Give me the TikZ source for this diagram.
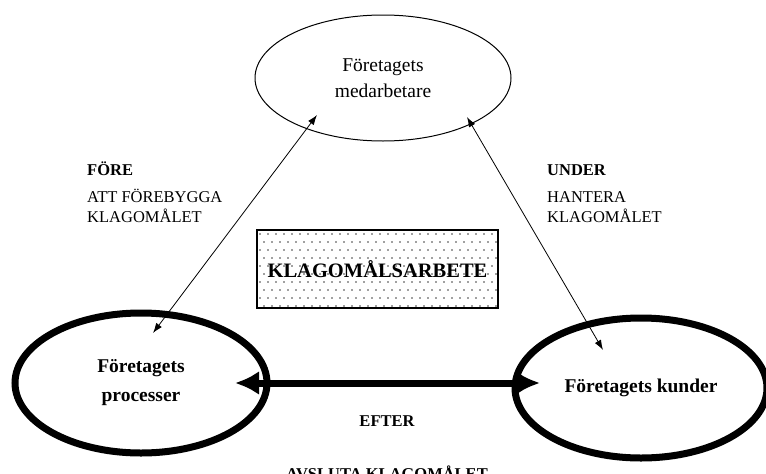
\documentclass[tikz,border=0pt]{standalone}
\usepackage{fontspec}
\setmainfont{Liberation Serif}
\usetikzlibrary{shapes.geometric,arrows.meta,calc}

\tikzset{
  thinell/.style={draw, ellipse, line width=1pt, inner sep=0pt},
  thickell/.style={draw, ellipse, line width=7pt, inner sep=0pt},
  ovaltext/.style={font=\fontsize{19.5}{27}\selectfont, align=center},
  labeltext/.style={font=\fontsize{16.5}{20}\selectfont, align=left, inner sep=0pt},
  boldlabel/.style={labeltext, font=\bfseries\fontsize{16.5}{20}\selectfont},
  thinlink/.style={line width=0.8pt, {Latex[length=10pt,width=7pt]}-{Latex[length=10pt,width=7pt]}},
  thicklink/.style={line width=7pt, {Latex[length=24pt,width=24pt]}-{Latex[length=24pt,width=24pt]}},
  dotbox/.style={draw, line width=1.3pt, minimum width=241, minimum height=78, inner sep=0pt,
    font=\bfseries\fontsize{20.5}{24}\selectfont,
    path picture={
      \foreach \j in {0,...,9}{
        \foreach \i in {0,...,30}{
          \pgfmathsetmacro{\xo}{mod(\j,2)*4}
          \fill[black!75] ($(path picture bounding box.north west)+(\i*8+\xo+3,\j*8+4)$) circle (0.85);
        }
      }
    }},
}

\begin{document}
\begin{tikzpicture}[x=1pt,y=-1pt]
  \useasboundingbox (0,0) rectangle (766,474);

  % the three parties
  \node[thinell, minimum width=256, minimum height=126, ovaltext] (medarb) at (383,78)
    {Företagets\\[-1pt]medarbetare};
  \node[thickell, minimum width=252, minimum height=140, ovaltext, font=\bfseries\fontsize{19.5}{29}\selectfont] (proc) at (141,383)
    {Företagets\\processer};
  \node[thickell, minimum width=252, minimum height=140, ovaltext, font=\bfseries\fontsize{19.5}{27}\selectfont] (kund) at (641,388)
    {Företagets kunder};

  % central box
  \node[dotbox] (arbete) at (377.5,269) {KLAGOMÅLSARBETE};

  % arrow end points inside the ovals
  \coordinate (procA) at (153,333);
  \coordinate (medA) at (317,115);
  \coordinate (medB) at (467,117);
  \coordinate (kundA) at (603,350);
  \coordinate (procB) at (235,383);
  \coordinate (kundB) at (540,383);

  \draw[thinlink] (procA) -- (medA);
  \draw[thinlink] (medB) -- (kundA);
  \draw[thicklink] (procB) -- (kundB);

  % phase labels
  \node[boldlabel, anchor=base west] (fore) at (87,175) {FÖRE};
  \node[labeltext, anchor=base west] (foretext) at (87,222) {ATT FÖREBYGGA\\KLAGOMÅLET};
  \node[boldlabel, anchor=base west] (under) at (547,175) {UNDER};
  \node[labeltext, anchor=base west] (undertext) at (547,222) {HANTERA\\KLAGOMÅLET};
  \node[boldlabel, anchor=base] (efter) at (387,426) {EFTER};
  \node[boldlabel, anchor=base] (eftertext) at (387,479) {AVSLUTA KLAGOMÅLET};
\end{tikzpicture}
\end{document}
